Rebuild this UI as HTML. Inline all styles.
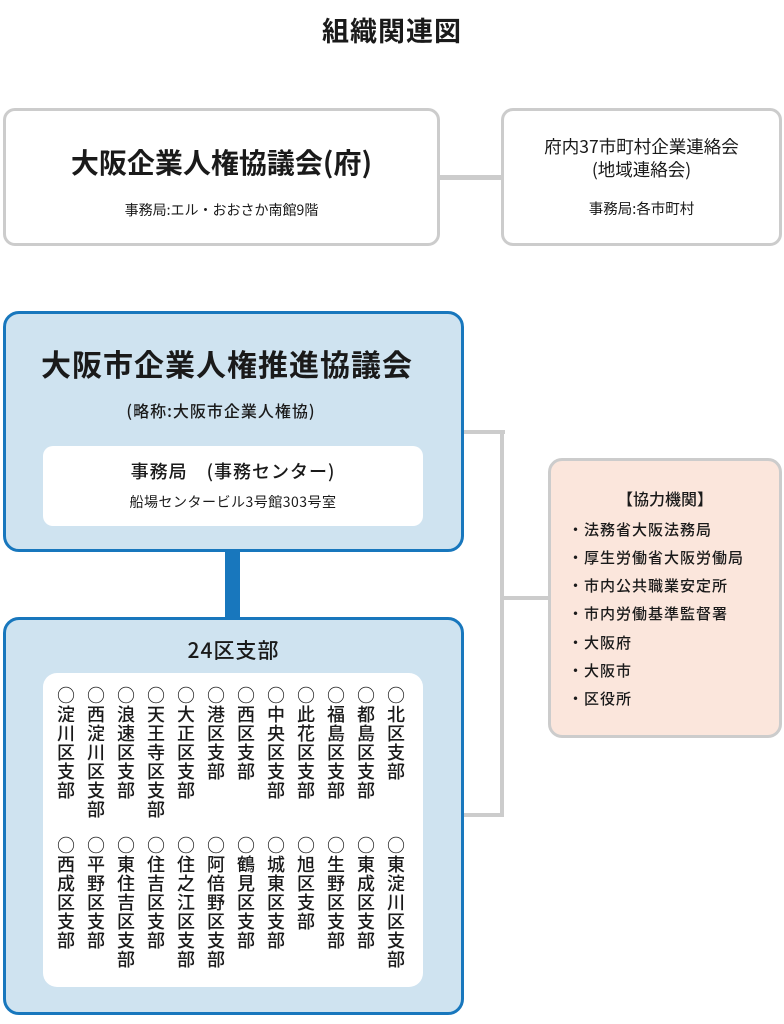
<!DOCTYPE html>
<html><head><meta charset="utf-8"><style>
*{margin:0;padding:0;box-sizing:border-box}
body{width:784px;height:1024px;background:#fff;position:relative;overflow:hidden;font-family:"Noto Sans CJK JP","Liberation Sans",sans-serif;color:#1a1a1a}
.a{position:absolute}
.c{text-align:center;white-space:nowrap}
.gbox{border:3px solid #cccccc;border-radius:12px;background:#fff}
.bbox{border:3px solid #1877bd;border-radius:16px;background:#cfe3f0}
.col{position:absolute;writing-mode:vertical-rl;font-size:18px;line-height:18px;letter-spacing:1px;font-weight:500}
.li{position:absolute;left:568px;font-size:15px;line-height:20px;letter-spacing:1px;font-weight:500;white-space:nowrap}
</style></head><body>
<div class="a c" style="left:0;width:784px;top:12px;font-size:27px;line-height:36px;font-weight:bold;letter-spacing:1px">組織関連図</div>

<div class="a" style="left:438px;top:175px;width:66px;height:5px;background:#cccccc"></div>
<div class="a gbox" style="left:3px;top:108px;width:437px;height:138px"></div>
<div class="a c" style="left:3px;width:437px;top:143px;font-size:28px;line-height:38px;font-weight:bold">大阪企業人権協議会(府)</div>
<div class="a c" style="left:3px;width:437px;top:200px;font-size:14px;line-height:20px">事務局:エル・おおさか南館9階</div>
<div class="a gbox" style="left:501px;top:108px;width:281px;height:138px"></div>
<div class="a c" style="left:501px;width:281px;top:135px;font-size:17.5px;line-height:23px">府内37市町村企業連絡会<br>(地域連絡会)</div>
<div class="a c" style="left:501px;width:281px;top:199px;font-size:14.5px;line-height:20px">事務局:各市町村</div>

<div class="a" style="left:460px;top:430px;width:45px;height:4px;background:#cccccc"></div>
<div class="a" style="left:500px;top:430px;width:4px;height:387px;background:#cccccc"></div>
<div class="a" style="left:460px;top:813px;width:44px;height:4px;background:#cccccc"></div>
<div class="a" style="left:500px;top:596px;width:50px;height:4px;background:#cccccc"></div>

<div class="a bbox" style="left:3px;top:311px;width:461px;height:241px"></div>
<div class="a c" style="left:3px;width:448px;top:343px;font-size:30px;line-height:40px;font-weight:bold;letter-spacing:1px">大阪市企業人権推進協議会</div>
<div class="a c" style="left:3px;width:436px;top:399px;font-size:16px;line-height:22px;font-weight:500;letter-spacing:1px">(略称:大阪市企業人権協)</div>
<div class="a" style="left:43px;top:446px;width:380px;height:80px;background:#fff;border-radius:10px"></div>
<div class="a c" style="left:43px;width:380px;top:458px;font-size:18px;line-height:26px;font-weight:500;letter-spacing:1px">事務局　(事務センター)</div>
<div class="a c" style="left:43px;width:380px;top:492px;font-size:14px;line-height:20px;letter-spacing:.5px">船場センタービル3号館303号室</div>

<div class="a" style="left:225px;top:550px;width:15px;height:69px;background:#1877bd"></div>

<div class="a bbox" style="left:3px;top:617px;width:461px;height:398px"></div>
<div class="a c" style="left:3px;width:461px;top:636px;font-size:21px;line-height:28px;font-weight:500;letter-spacing:1px">24区支部</div>
<div class="a" style="left:43px;top:673px;width:380px;height:314px;background:#fff;border-radius:14px"></div>

<div class="col" style="left:57px;top:686px">○淀川区支部</div>
<div class="col" style="left:87px;top:686px">○西淀川区支部</div>
<div class="col" style="left:117px;top:686px">○浪速区支部</div>
<div class="col" style="left:147px;top:686px">○天王寺区支部</div>
<div class="col" style="left:177px;top:686px">○大正区支部</div>
<div class="col" style="left:207px;top:686px">○港区支部</div>
<div class="col" style="left:237px;top:686px">○西区支部</div>
<div class="col" style="left:267px;top:686px">○中央区支部</div>
<div class="col" style="left:297px;top:686px">○此花区支部</div>
<div class="col" style="left:327px;top:686px">○福島区支部</div>
<div class="col" style="left:357px;top:686px">○都島区支部</div>
<div class="col" style="left:387px;top:686px">○北区支部</div>

<div class="col" style="left:57px;top:836px">○西成区支部</div>
<div class="col" style="left:87px;top:836px">○平野区支部</div>
<div class="col" style="left:117px;top:836px">○東住吉区支部</div>
<div class="col" style="left:147px;top:836px">○住吉区支部</div>
<div class="col" style="left:177px;top:836px">○住之江区支部</div>
<div class="col" style="left:207px;top:836px">○阿倍野区支部</div>
<div class="col" style="left:237px;top:836px">○鶴見区支部</div>
<div class="col" style="left:267px;top:836px">○城東区支部</div>
<div class="col" style="left:297px;top:836px">○旭区支部</div>
<div class="col" style="left:327px;top:836px">○生野区支部</div>
<div class="col" style="left:357px;top:836px">○東成区支部</div>
<div class="col" style="left:387px;top:836px">○東淀川区支部</div>

<div class="a gbox" style="left:548px;top:458px;width:234px;height:280px;background:#fbe6dc;border-radius:14px"></div>
<div class="a c" style="left:548px;width:234px;top:487px;font-size:16px;line-height:22px;font-weight:500">【協力機関】</div>
<div class="li" style="top:520px">・法務省大阪法務局</div>
<div class="li" style="top:548px">・厚生労働省大阪労働局</div>
<div class="li" style="top:576px">・市内公共職業安定所</div>
<div class="li" style="top:604px">・市内労働基準監督署</div>
<div class="li" style="top:633px">・大阪府</div>
<div class="li" style="top:661px">・大阪市</div>
<div class="li" style="top:689px">・区役所</div>
</body></html>
